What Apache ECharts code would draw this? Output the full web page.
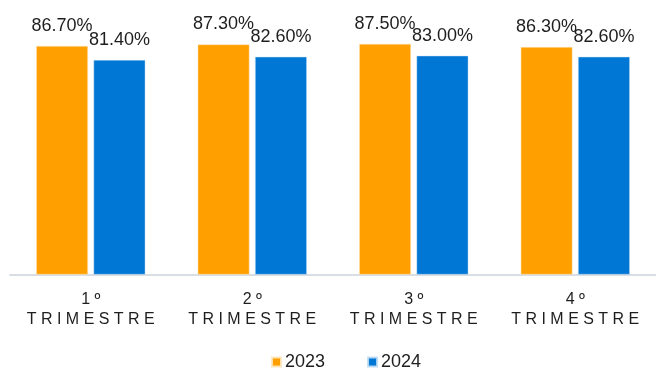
<!DOCTYPE html>
<html>
<head>
<meta charset="utf-8">
<script src="https://cdn.jsdelivr.net/npm/echarts@6/dist/echarts.min.js"></script>
<style>
html,body{margin:0;padding:0;background:#fff;}
#chart{width:656px;height:369px;}
</style>
</head>
<body>
<div id="chart"></div>
<script>
const categories = ['1º TRIMESTRE', '2º TRIMESTRE', '3º TRIMESTRE', '4º TRIMESTRE'];
const seriesNames = ['2023', '2024'];
const values2023 = [86.7, 87.3, 87.5, 86.3];
const values2024 = [81.4, 82.6, 83.0, 82.6];

const FONT = '"Liberation Sans", Arial, sans-serif';
const chart = echarts.init(document.getElementById('chart'), null, {renderer: 'canvas'});

function spaced(s) { return s.split('').join(' '); }

const labelCfg = {
  show: true,
  position: 'top',
  distance: 11,
  fontFamily: FONT,
  fontSize: 18,
  color: '#1e1e1e',
  formatter: p => p.value.toFixed(2) + '%'
};

chart.setOption({
  animation: false,
  textStyle: {fontFamily: FONT},
  grid: {left: 10, right: -7, top: 11, bottom: 94.5, containLabel: false},
  legend: {
    data: seriesNames,
    left: 271,
    top: 353,
    padding: 0,
    itemWidth: 9,
    itemHeight: 9,
    itemGap: 42,
    icon: 'rect',
    textStyle: {fontFamily: FONT, fontSize: 18, color: '#1e1e1e', padding: [0, 0, 0, -1]}
  },
  xAxis: {
    type: 'category',
    data: categories,
    axisLine: {show: true, lineStyle: {color: '#d9dde4', width: 2}},
    axisTick: {show: false},
    axisLabel: {
      interval: 0,
      margin: 15,
      fontFamily: FONT,
      fontSize: 16,
      lineHeight: 20,
      color: '#1e1e1e',
      formatter: v => {
        const parts = v.split(' ');
        return spaced(parts[0]) + '\n' + spaced(parts[1]);
      }
    }
  },
  yAxis: {
    type: 'value',
    min: 0,
    max: 100,
    show: false,
    splitLine: {show: false}
  },
  series: [
    {
      name: seriesNames[0],
      type: 'bar',
      data: values2023,
      barWidth: '32%',
      barGap: '11%',
      itemStyle: {color: '#FFA000', borderColor: 'rgba(255,230,190,0.9)', borderWidth: 0.5},
      label: labelCfg
    },
    {
      name: seriesNames[1],
      type: 'bar',
      data: values2024,
      barWidth: '32%',
      itemStyle: {color: '#0077D4', borderColor: 'rgba(190,220,245,0.9)', borderWidth: 0.5},
      label: labelCfg
    }
  ]
});
</script>
</body>
</html>
